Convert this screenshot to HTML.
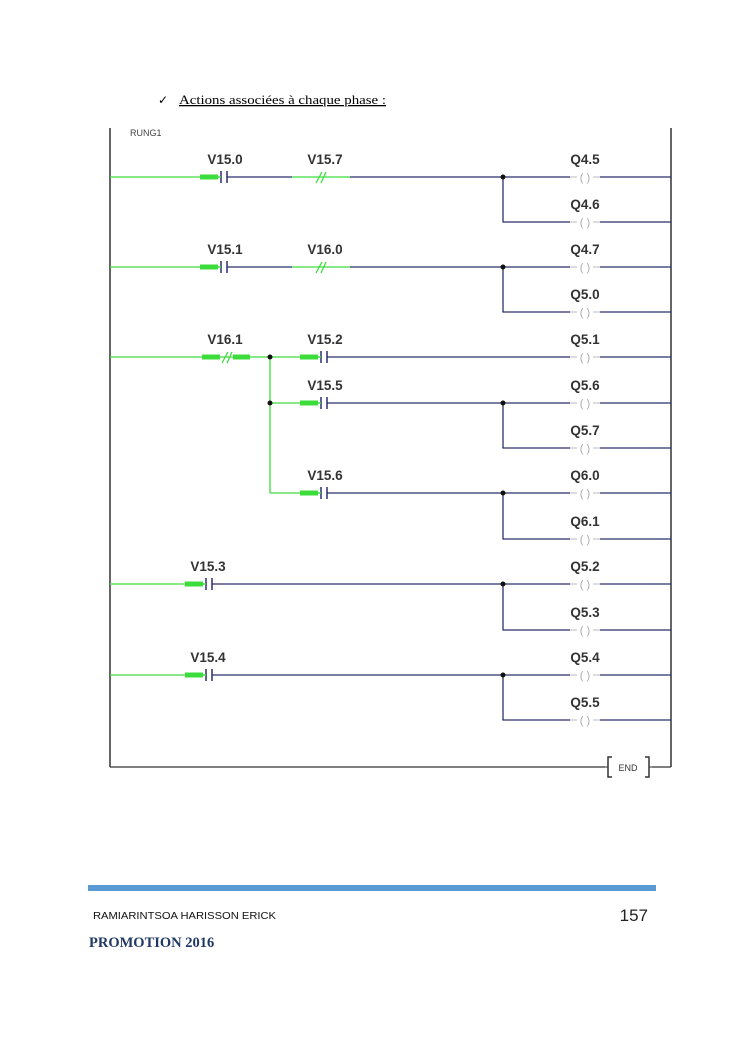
<!DOCTYPE html>
<html><head><meta charset="utf-8"><style>
html,body{margin:0;padding:0;background:#fff;width:745px;height:1053px;overflow:hidden}
svg{position:absolute;left:0;top:0}
.l{font-family:"Liberation Sans",Arial,sans-serif;font-weight:bold;font-size:13.5px;fill:#333;text-anchor:middle}
</style></head><body>
<svg width="745" height="1053" viewBox="0 0 745 1053">
<defs>
<g id="no"><rect x="0" y="-2.5" width="18" height="5" fill="#3ddc3d"/><line x1="21" y1="-6" x2="21" y2="6" stroke="#2b2f6e" stroke-width="1.5"/><line x1="27" y1="-6" x2="27" y2="6" stroke="#2b2f6e" stroke-width="1.5"/><line x1="18" y1="0" x2="21" y2="0" stroke="#3ddc3d" stroke-width="1.5"/></g>
<g id="coil"><line x1="0" y1="0" x2="7" y2="0" stroke="#bbb" stroke-width="1"/><text x="15" y="4" font-family="Liberation Sans,sans-serif" font-size="11" fill="#aaa" text-anchor="middle">(  )</text><line x1="23" y1="0" x2="30" y2="0" stroke="#bbb" stroke-width="1"/></g>
</defs>
<text x="158" y="104" font-family="DejaVu Sans,sans-serif" font-size="12" fill="#000">✓</text>
<text x="179" y="104" font-family="Liberation Serif,serif" font-size="13" fill="#000" text-decoration="underline" textLength="207" lengthAdjust="spacingAndGlyphs">Actions associées à chaque phase :</text>
<text x="130" y="136" font-family="Liberation Sans,sans-serif" font-size="9" fill="#444">RUNG1</text>
<line x1="110" y1="128" x2="110" y2="767" stroke="#333" stroke-width="1.5"/>
<line x1="671" y1="128" x2="671" y2="767" stroke="#333" stroke-width="1.5"/>
<line x1="110" y1="767" x2="605" y2="767" stroke="#333" stroke-width="1.2"/>
<line x1="652" y1="767" x2="671" y2="767" stroke="#333" stroke-width="1.2"/>
<path d="M612 757 h-4 v20 h4 M645 757 h4 v20 h-4" fill="none" stroke="#333" stroke-width="1.5"/>
<line x1="605" y1="767" x2="608" y2="767" stroke="#333"/><line x1="649" y1="767" x2="652" y2="767" stroke="#333"/>
<text x="628" y="771" font-family="Liberation Sans,sans-serif" font-size="9" fill="#333" text-anchor="middle">END</text>

<g stroke-width="1.3" fill="none">
<line x1="110" y1="177" x2="200" y2="177" stroke="#3ddc3d"/>
<line x1="227" y1="177" x2="292" y2="177" stroke="#2b2f6e"/>
<line x1="292" y1="177" x2="350" y2="177" stroke="#3ddc3d"/>
<path d="M316 183 L322 172 M321 183 L326 172" stroke="#3ddc3d"/>
<line x1="350" y1="177" x2="570" y2="177" stroke="#2b2f6e"/>
<path d="M503 177 V222 H570" stroke="#2b2f6e"/>
<line x1="110" y1="267" x2="200" y2="267" stroke="#3ddc3d"/>
<line x1="227" y1="267" x2="292" y2="267" stroke="#2b2f6e"/>
<line x1="292" y1="267" x2="350" y2="267" stroke="#3ddc3d"/>
<path d="M316 273 L322 262 M321 273 L326 262" stroke="#3ddc3d"/>
<line x1="350" y1="267" x2="570" y2="267" stroke="#2b2f6e"/>
<path d="M503 267 V312 H570" stroke="#2b2f6e"/>
<line x1="110" y1="357" x2="270" y2="357" stroke="#3ddc3d"/>
<path d="M222 363 L228 352 M227 363 L232 352" stroke="#3ddc3d"/>
<line x1="270" y1="357" x2="270" y2="493" stroke="#3ddc3d"/>
<line x1="270" y1="357" x2="300" y2="357" stroke="#3ddc3d"/>
<line x1="270" y1="403" x2="300" y2="403" stroke="#3ddc3d"/>
<line x1="270" y1="493" x2="300" y2="493" stroke="#3ddc3d"/>
<line x1="327" y1="357" x2="570" y2="357" stroke="#2b2f6e"/>
<line x1="327" y1="403" x2="570" y2="403" stroke="#2b2f6e"/>
<path d="M503 403 V448 H570" stroke="#2b2f6e"/>
<line x1="327" y1="493" x2="570" y2="493" stroke="#2b2f6e"/>
<path d="M503 493 V539 H570" stroke="#2b2f6e"/>
<line x1="110" y1="584" x2="185" y2="584" stroke="#3ddc3d"/>
<line x1="212" y1="584" x2="570" y2="584" stroke="#2b2f6e"/>
<path d="M503 584 V630 H570" stroke="#2b2f6e"/>
<line x1="110" y1="675" x2="185" y2="675" stroke="#3ddc3d"/>
<line x1="212" y1="675" x2="570" y2="675" stroke="#2b2f6e"/>
<path d="M503 675 V720 H570" stroke="#2b2f6e"/>
<g stroke="#2b2f6e">
<line x1="600" y1="177" x2="671" y2="177"/><line x1="600" y1="222" x2="671" y2="222"/>
<line x1="600" y1="267" x2="671" y2="267"/><line x1="600" y1="312" x2="671" y2="312"/>
<line x1="600" y1="357" x2="671" y2="357"/><line x1="600" y1="403" x2="671" y2="403"/>
<line x1="600" y1="448" x2="671" y2="448"/><line x1="600" y1="493" x2="671" y2="493"/>
<line x1="600" y1="539" x2="671" y2="539"/><line x1="600" y1="584" x2="671" y2="584"/>
<line x1="600" y1="630" x2="671" y2="630"/><line x1="600" y1="675" x2="671" y2="675"/>
<line x1="600" y1="720" x2="671" y2="720"/>
</g>
</g>
<rect x="202" y="354.5" width="18" height="5" fill="#3ddc3d"/><rect x="233" y="354.5" width="17" height="5" fill="#3ddc3d"/>
<use href="#no" x="200" y="177"/><use href="#no" x="200" y="267"/>
<use href="#no" x="300" y="357"/><use href="#no" x="300" y="403"/><use href="#no" x="300" y="493"/>
<use href="#no" x="185" y="584"/><use href="#no" x="185" y="675"/>
<g fill="#111"><circle cx="503" cy="177" r="2.5"/><circle cx="503" cy="267" r="2.5"/><circle cx="270" cy="357" r="2.5"/><circle cx="270" cy="403" r="2.5"/><circle cx="503" cy="403" r="2.5"/><circle cx="503" cy="493" r="2.5"/><circle cx="503" cy="584" r="2.5"/><circle cx="503" cy="675" r="2.5"/></g>
<use href="#coil" x="570" y="177"/><use href="#coil" x="570" y="222"/><use href="#coil" x="570" y="267"/><use href="#coil" x="570" y="312"/>
<use href="#coil" x="570" y="357"/><use href="#coil" x="570" y="403"/><use href="#coil" x="570" y="448"/><use href="#coil" x="570" y="493"/>
<use href="#coil" x="570" y="539"/><use href="#coil" x="570" y="584"/><use href="#coil" x="570" y="630"/><use href="#coil" x="570" y="675"/>
<use href="#coil" x="570" y="720"/>
<text class="l" x="225" y="164">V15.0</text><text class="l" x="325" y="164">V15.7</text>
<text class="l" x="225" y="254">V15.1</text><text class="l" x="325" y="254">V16.0</text>
<text class="l" x="225" y="344">V16.1</text><text class="l" x="325" y="344">V15.2</text>
<text class="l" x="325" y="390">V15.5</text><text class="l" x="325" y="480">V15.6</text>
<text class="l" x="208" y="571">V15.3</text><text class="l" x="208" y="662">V15.4</text>
<text class="l" x="585" y="164">Q4.5</text><text class="l" x="585" y="209">Q4.6</text>
<text class="l" x="585" y="254">Q4.7</text><text class="l" x="585" y="299">Q5.0</text>
<text class="l" x="585" y="344">Q5.1</text><text class="l" x="585" y="390">Q5.6</text>
<text class="l" x="585" y="435">Q5.7</text><text class="l" x="585" y="480">Q6.0</text>
<text class="l" x="585" y="526">Q6.1</text><text class="l" x="585" y="571">Q5.2</text>
<text class="l" x="585" y="617">Q5.3</text><text class="l" x="585" y="662">Q5.4</text>
<text class="l" x="585" y="707">Q5.5</text>
<rect x="88" y="885" width="568" height="6" fill="#5b9bd5"/>
<text x="93" y="919" font-family="Liberation Sans,sans-serif" font-size="10" fill="#111" textLength="183" lengthAdjust="spacingAndGlyphs">RAMIARINTSOA HARISSON ERICK</text>
<text x="648" y="921" font-family="Liberation Sans,sans-serif" font-size="17" fill="#222" text-anchor="end">157</text>
<text x="89" y="947" font-family="Liberation Serif,serif" font-weight="bold" font-size="14.5" fill="#1f3864">PROMOTION 2016</text>
</svg>
</body></html>
